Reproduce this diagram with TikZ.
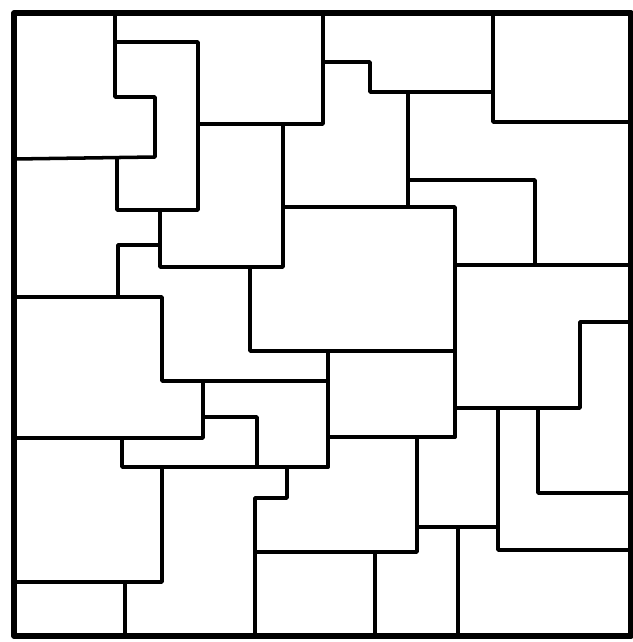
\documentclass[tikz,border=0pt]{standalone}
\usepackage{tikz}
\usetikzlibrary{calc}
\newcommand{\frameL}{14}
\newcommand{\frameR}{631}
\newcommand{\frameT}{13}
\newcommand{\frameB}{636}
\tikzset{
  % --- lines ---
  frame/.style = {line width=1.5pt, black, line join=round},
  seam/.style  = {line width=1.0pt, black, line join=round, line cap=round},
}

\begin{document}
\begin{tikzpicture}[x=0.01cm, y=-0.01cm]

  % ===================================================================
  %  PAGE (632 x 642 px, y grows downwards)
  % ===================================================================
  \useasboundingbox (0,0) rectangle (632,642);

  % ===================================================================
  %  OUTER FRAME
  % ===================================================================
  \coordinate (nw) at (\frameL,\frameT);
  \coordinate (se) at (\frameR,\frameB);
  \draw[frame] (nw) rectangle (se);

  % ===================================================================
  %  TOP BAND
  % ===================================================================
  \draw[seam] (115,\frameT) -- (115,97) -- (155,97) -- (155,157) -- (\frameL,159);
  \draw[seam] (115,42) -- (198,42) -- (198,210) -- (117,210) -- (117,158);
  \draw[seam] (198,124) -- (323,124) -- (323,\frameT);
  \draw[seam] (323,62) -- (370,62) -- (370,92) -- (493,92);
  \draw[seam] (493,\frameT) -- (493,122) -- (\frameR,122);
  \draw[seam] (408,92) -- (408,207);
  \draw[seam] (408,180) -- (535,180) -- (535,265);
  \draw[seam] (455,265) -- (\frameR,265);

  % ===================================================================
  %  MIDDLE BAND
  % ===================================================================
  \draw[seam] (283,124) -- (283,267) -- (160,267) -- (160,210);
  \draw[seam] (283,207) -- (455,207) -- (455,437);
  \draw[seam] (118,297) -- (118,245) -- (160,245);
  \draw[seam] (\frameL,297) -- (162,297) -- (162,381) -- (328,381);
  \draw[seam] (250,267) -- (250,351) -- (455,351);
  \draw[seam] (328,351) -- (328,467);
  \draw[seam] (328,437) -- (455,437);
  \draw[seam] (\frameR,322) -- (580,322) -- (580,408) -- (455,408);
  \draw[seam] (203,381) -- (203,438) -- (\frameL,438);
  \draw[seam] (203,417) -- (257,417) -- (257,467);

  % ===================================================================
  %  BOTTOM BAND
  % ===================================================================
  \draw[seam] (122,438) -- (122,467) -- (328,467);
  \draw[seam] (287,467) -- (287,498) -- (255,498) -- (255,\frameB);
  \draw[seam] (162,467) -- (162,582) -- (\frameL,582);
  \draw[seam] (125,582) -- (125,\frameB);
  \draw[seam] (255,552) -- (417,552) -- (417,437);
  \draw[seam] (417,527) -- (498,527);
  \draw[seam] (498,408) -- (498,550) -- (\frameR,550);
  \draw[seam] (538,408) -- (538,493) -- (\frameR,493);
  \draw[seam] (375,552) -- (375,\frameB);
  \draw[seam] (458,527) -- (458,\frameB);

\end{tikzpicture}
\end{document}
